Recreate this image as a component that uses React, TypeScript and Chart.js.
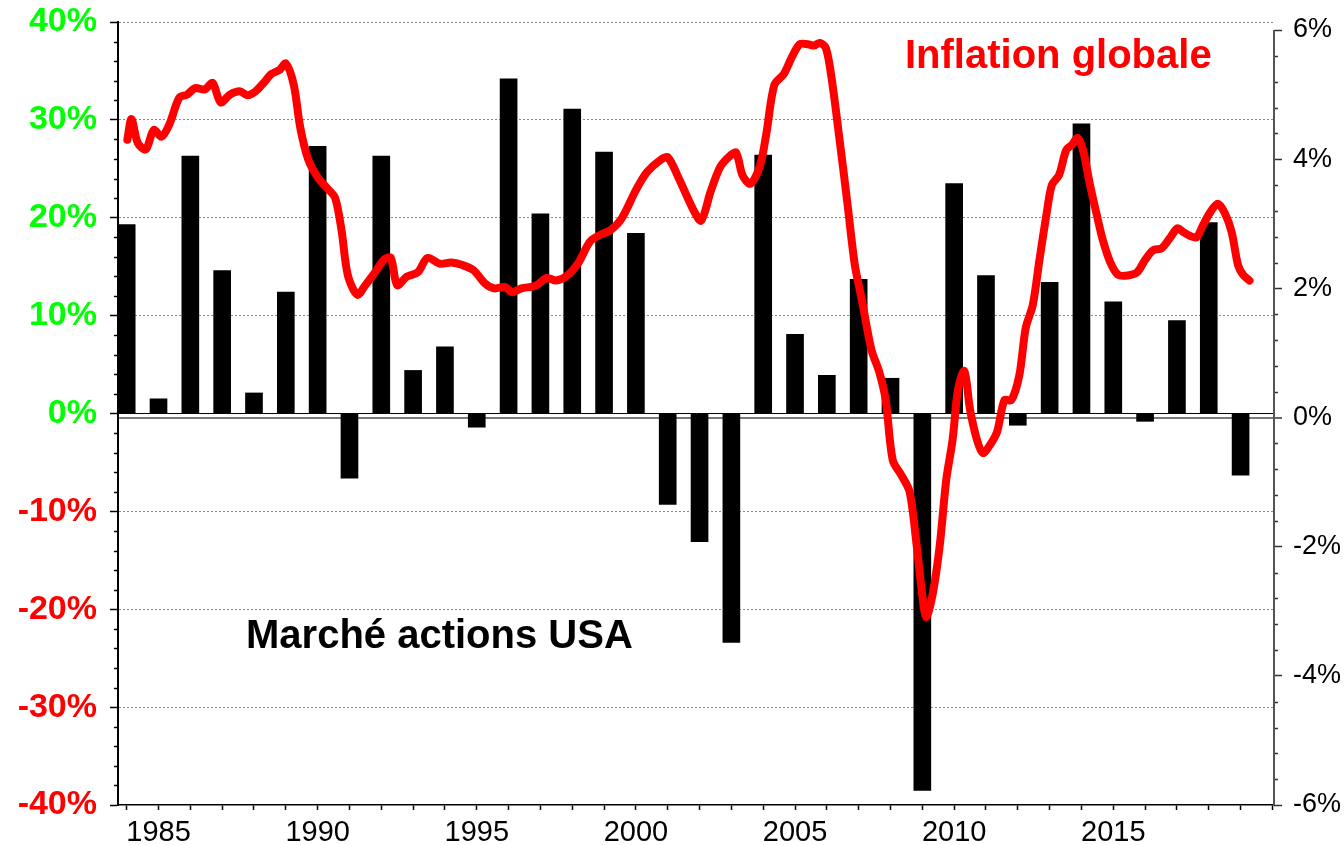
import { useEffect, useRef } from 'react';
import { Chart, registerables } from 'chart.js';

Chart.register(...registerables);

// ---- Data ----
const years = [
  1984, 1985, 1986, 1987, 1988, 1989, 1990, 1991, 1992, 1993, 1994, 1995,
  1996, 1997, 1998, 1999, 2000, 2001, 2002, 2003, 2004, 2005, 2006, 2007,
  2008, 2009, 2010, 2011, 2012, 2013, 2014, 2015, 2016, 2017, 2018, 2019,
];
const stockReturns = [
  19.3, 1.5, 26.3, 14.6, 2.1, 12.4, 27.3, -6.6, 26.3, 4.4, 6.8, -1.4,
  34.2, 20.4, 31.1, 26.7, 18.4, -9.3, -13.1, -23.4, 26.4, 8.1, 3.9, 13.7,
  3.6, -38.5, 23.5, 14.1, -1.2, 13.4, 29.6, 11.4, -0.8, 9.5, 19.5, -6.3,
];

const inflationDates = [
  1984.02, 1984.15, 1984.35, 1984.6, 1984.85, 1985.1, 1985.35, 1985.65, 1985.9,
  1986.15, 1986.45, 1986.7, 1986.95, 1987.25, 1987.55, 1987.8, 1988.05, 1988.3,
  1988.55, 1988.8, 1989.0, 1989.25, 1989.45, 1989.7, 1990.0, 1990.3, 1990.55,
  1990.75, 1990.95, 1991.25, 1991.5, 1991.85, 1992.1, 1992.3, 1992.5, 1992.8,
  1993.15, 1993.45, 1993.85, 1994.2, 1994.55, 1994.9, 1995.25, 1995.55, 1995.9,
  1996.1, 1996.4, 1996.85, 1997.2, 1997.5, 1997.85, 1998.2, 1998.55, 1998.85,
  1999.2, 1999.55, 2000.0, 2000.35, 2000.75, 2001.0, 2001.35, 2001.8, 2002.05,
  2002.35, 2002.65, 2002.95, 2003.15, 2003.35, 2003.6, 2003.9, 2004.1, 2004.35,
  2004.65, 2004.9, 2005.15, 2005.4, 2005.6, 2005.78, 2005.97, 2006.15, 2006.4,
  2006.65, 2006.88, 2007.1, 2007.4, 2007.65, 2007.85, 2008.07, 2008.35, 2008.6,
  2008.82, 2008.98, 2009.12, 2009.32, 2009.55, 2009.75, 2009.95, 2010.12, 2010.32,
  2010.5, 2010.72, 2010.9, 2011.12, 2011.35, 2011.58, 2011.8, 2012.05, 2012.25,
  2012.47, 2012.68, 2012.9, 2013.07, 2013.3, 2013.52, 2013.7, 2013.88, 2014.05,
  2014.27, 2014.48, 2014.67, 2014.9, 2015.15, 2015.45, 2015.75, 2016.0, 2016.25,
  2016.52, 2016.78, 2017.02, 2017.2, 2017.42, 2017.62, 2017.82, 2018.05, 2018.28,
  2018.5, 2018.72, 2018.92, 2019.08, 2019.28,
];
const inflationValues = [
  4.3, 4.62, 4.25, 4.15, 4.45, 4.35, 4.55, 4.95, 5.0,
  5.1, 5.08, 5.18, 4.88, 5.0, 5.05, 4.99, 5.05, 5.18,
  5.32, 5.38, 5.48, 5.15, 4.5, 4.0, 3.72, 3.55, 3.4,
  2.9, 2.2, 1.9, 2.05, 2.28, 2.45, 2.47, 2.05, 2.18,
  2.25, 2.47, 2.38, 2.4, 2.36, 2.28, 2.08, 2.0, 2.02,
  1.94, 2.0, 2.04, 2.16, 2.12, 2.2, 2.4, 2.72, 2.82,
  2.9, 3.08, 3.52, 3.8, 3.98, 4.03, 3.7, 3.22, 3.05,
  3.5, 3.88, 4.05, 4.1, 3.75, 3.62, 3.9, 4.4, 5.15,
  5.32, 5.58, 5.78, 5.78, 5.76, 5.8, 5.72, 5.25, 4.3,
  3.3, 2.36, 1.82, 1.05, 0.7, 0.27, -0.66, -0.9, -1.15,
  -1.97, -2.67, -3.09, -2.75, -1.97, -0.97, -0.35, 0.43, 0.72,
  0.12, -0.35, -0.55, -0.43, -0.22, 0.27, 0.27, 0.66, 1.39,
  1.74, 2.44, 3.14, 3.6, 3.76, 4.14, 4.22, 4.33, 4.14,
  3.6, 3.14, 2.75, 2.41, 2.21, 2.2, 2.25, 2.44, 2.59,
  2.62, 2.78, 2.93, 2.87, 2.81, 2.79, 2.98, 3.18, 3.31,
  3.17, 2.87, 2.36, 2.21, 2.12,
];

const leftTicks = [-40, -30, -20, -10, 0, 10, 20, 30, 40];
const rightTicks = [-6, -4, -2, 0, 2, 4, 6];
const xTickYears = [
  1984, 1985, 1986, 1987, 1988, 1989, 1990, 1991, 1992, 1993, 1994, 1995,
  1996, 1997, 1998, 1999, 2000, 2001, 2002, 2003, 2004, 2005, 2006, 2007,
  2008, 2009, 2010, 2011, 2012, 2013, 2014, 2015, 2016, 2017, 2018, 2019, 2020,
];
const xLabelYears = [1985, 1990, 1995, 2000, 2005, 2010, 2015];

const stockLabel = 'Marché actions USA';
const inflationLabel = 'Inflation globale';

const FONT = '"Liberation Sans", Arial, Helvetica, sans-serif';

const minorTicksPlugin = {
  id: 'minorTicks',
  afterDraw(chart: any) {
    const ctx = chart.ctx;
    const y = chart.scales.y;
    const y2 = chart.scales.y2;
    ctx.save();
    ctx.lineWidth = 1.5;
    ctx.strokeStyle = '#000';
    for (let v = -38; v <= 38; v += 2) {
      if (v % 10 === 0) continue;
      const py = Math.round(y.getPixelForValue(v)) + 0.5;
      ctx.beginPath();
      ctx.moveTo(y.right - 4, py);
      ctx.lineTo(y.right, py);
      ctx.stroke();
    }
    ctx.strokeStyle = '#333';
    for (let i = -15; i <= 15; i++) {
      if (i % 5 === 0) continue;
      const v = i * 0.4;
      const py = Math.round(y2.getPixelForValue(v)) + 0.5;
      ctx.beginPath();
      ctx.moveTo(y2.left, py);
      ctx.lineTo(y2.left + 4, py);
      ctx.stroke();
    }
    // right axis line spans only the tick range (6% to -6%)
    ctx.strokeStyle = '#555';
    ctx.lineWidth = 2;
    const top = y2.getPixelForValue(rightTicks[rightTicks.length - 1]);
    const bottom = y2.getPixelForValue(rightTicks[0]);
    ctx.beginPath();
    ctx.moveTo(y2.left, top);
    ctx.lineTo(y2.left, bottom);
    ctx.stroke();
    ctx.restore();
  },
};

const textPlugin = {
  id: 'seriesTexts',
  afterDatasetsDraw(chart: any) {
    const ctx = chart.ctx;
    ctx.save();
    ctx.font = `bold 40px ${FONT}`;
    ctx.textBaseline = 'alphabetic';
    ctx.textAlign = 'left';
    ctx.fillStyle = '#ff0000';
    ctx.fillText(inflationLabel, 905, 68);
    ctx.fillStyle = '#000000';
    ctx.fillText(stockLabel, 246, 648);
    ctx.restore();
  },
};

const clearPadding = (scale: any) => {
  scale.paddingTop = 0;
  scale.paddingBottom = 0;
  scale.paddingLeft = 0;
  scale.paddingRight = 0;
};

export default function App() {
  const canvasRef = useRef<HTMLCanvasElement | null>(null);

  useEffect(() => {
    const canvas = canvasRef.current;
    if (!canvas) return;
    const chart = new Chart(canvas, {
      type: 'bar',
      data: {
        datasets: [
          {
            type: 'line',
            label: inflationLabel,
            data: inflationDates.map((d, i) => ({ x: d, y: inflationValues[i] })),
            xAxisID: 'x',
            yAxisID: 'y2',
            borderColor: '#ff0000',
            backgroundColor: '#ff0000',
            borderWidth: 8,
            pointRadius: 0,
            tension: 0.3,
            fill: false,
            borderCapStyle: 'round',
            borderJoinStyle: 'round',
            order: 0,
          } as any,
          {
            type: 'bar',
            label: stockLabel,
            data: years.map((yr, i) => ({ x: yr, y: stockReturns[i] })),
            xAxisID: 'x',
            yAxisID: 'y',
            backgroundColor: '#000000',
            borderWidth: 0,
            barThickness: 17,
            order: 1,
          } as any,
        ],
      },
      options: {
        responsive: false,
        animation: false,
        events: [],
        layout: { padding: { top: 22, left: 0, right: 0, bottom: 0 } },
        plugins: {
          legend: { display: false },
          tooltip: { enabled: false },
          title: { display: false },
        },
        scales: {
          x: {
            type: 'linear',
            position: 'bottom',
            min: 1983.727,
            max: 2020.05,
            offset: false,
            afterBuildTicks: (scale: any) => {
              scale.ticks = xTickYears.map((v) => ({ value: v }));
            },
            afterFit: (scale: any) => {
              scale.height = 40;
              clearPadding(scale);
            },
            grid: {
              offset: false,
              drawOnChartArea: false,
              drawTicks: true,
              tickLength: 5,
              tickColor: '#000',
              tickWidth: 1.5,
            },
            border: { display: true, color: '#000', width: 1.5 },
            ticks: {
              autoSkip: false,
              maxRotation: 0,
              minRotation: 0,
              padding: 6,
              color: '#000',
              font: { family: FONT, size: 29 },
              callback: (v: any) => (xLabelYears.includes(Number(v)) ? String(v) : ''),
            },
          },
          y: {
            type: 'linear',
            position: 'left',
            min: -40,
            max: 40,
            afterBuildTicks: (scale: any) => {
              scale.ticks = leftTicks.map((v) => ({ value: v }));
            },
            afterFit: (scale: any) => {
              scale.width = 118;
              clearPadding(scale);
            },
            grid: {
              drawOnChartArea: true,
              drawTicks: true,
              tickLength: 8,
              tickColor: '#000',
              tickWidth: 1.5,
              lineWidth: 1,
              color: (ctx: any) => {
                const v = ctx.tick ? ctx.tick.value : null;
                if (v === 0) return '#000';
                if (v === -40) return 'rgba(0,0,0,0)';
                return '#8a8a8a';
              },
            },
            border: {
              display: true,
              color: '#000',
              width: 2,
              dash: (ctx: any) => (ctx.tick ? (ctx.tick.value === 0 ? [] : [2, 2]) : []),
            },
            ticks: {
              autoSkip: false,
              padding: 13,
              font: { family: FONT, size: 34, weight: 'bold' },
              color: (ctx: any) => (ctx.tick && ctx.tick.value < 0 ? '#ff0000' : '#00ff00'),
              callback: (v: any) => `${v}%`,
            },
          },
          y2: {
            type: 'linear',
            position: 'right',
            min: -6,
            max: 6.124,
            afterBuildTicks: (scale: any) => {
              scale.ticks = rightTicks.map((v) => ({ value: v }));
            },
            afterFit: (scale: any) => {
              scale.width = 70;
              clearPadding(scale);
            },
            grid: {
              drawOnChartArea: true,
              drawTicks: true,
              tickLength: 8,
              tickColor: '#333',
              tickWidth: 1.5,
              lineWidth: (ctx: any) => (ctx.tick && ctx.tick.value === 0 ? 2 : 1),
              color: (ctx: any) =>
                ctx.tick && ctx.tick.value === 0 ? '#7a7a7a' : 'rgba(0,0,0,0)',
            },
            border: { display: false },
            ticks: {
              autoSkip: false,
              padding: 11,
              color: '#000',
              font: { family: FONT, size: 27 },
              callback: (v: any) => `${v}%`,
            },
          },
        },
      } as any,
      plugins: [minorTicksPlugin, textPlugin],
    });
    return () => chart.destroy();
  }, []);

  return (
    <div
      style={{
        position: 'fixed',
        left: 0,
        top: 0,
        width: 1344,
        height: 845,
        background: '#fff',
        overflow: 'hidden',
      }}
    >
      <canvas ref={canvasRef} width={1344} height={845} style={{ display: 'block' }} />
    </div>
  );
}
